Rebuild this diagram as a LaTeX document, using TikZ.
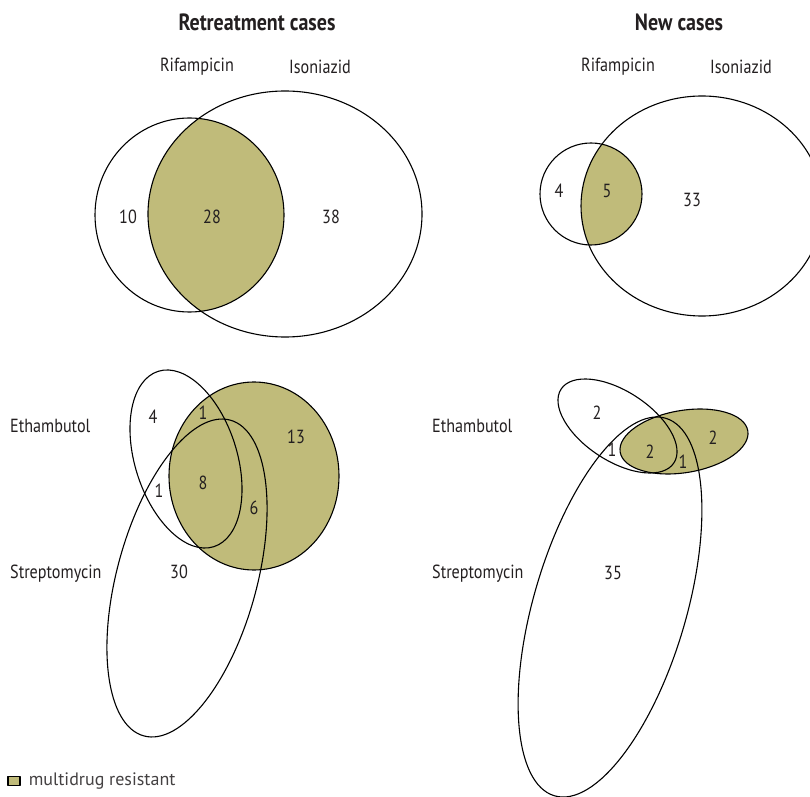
\documentclass[tikz,border=0pt]{standalone}
\usepackage{fontspec}
\setmainfont{PT Sans}
\newfontfamily\condfont[FakeStretch=0.85]{PT Sans}
\usepackage{tikz}
\usetikzlibrary{positioning}
\definecolor{mdrolive}{RGB}{192,187,122}
\definecolor{inktext}{RGB}{35,31,32}
\tikzset{
  setline/.style={line width=1.1pt,draw=black},
  mdrfill/.style={fill=mdrolive},
  numlbl/.style={font=\condfont\fontsize{19}{22}\selectfont,text=inktext,inner sep=0pt},
  setlbl/.style={font=\condfont\fontsize{19}{22}\selectfont,text=inktext,inner sep=0pt},
  titlelbl/.style={font=\condfont\bfseries\fontsize{23.5}{27}\selectfont,text=inktext,inner sep=0pt}
}
\begin{document}
\begin{tikzpicture}[line cap=round,line join=round,x=1pt,y=1pt]
\useasboundingbox (0.,0.) rectangle (810.,796.);
\clip (0.,0.) rectangle (810.,796.);
% retreatment cases, rifampicin / isoniazid
\begin{scope}
\clip (189.5,581.) ellipse (94.5 and 97.);
\fill [mdrfill] (285.,582.) ellipse (137. and 123.);
\end{scope}
\draw [setline] (189.5,581.) ellipse (94.5 and 97.);
\draw [setline] (285.,582.) ellipse (137. and 123.);
\draw (257.,774.) node[titlelbl] (rttitle) {Retreatment cases};
\draw (197.,729.) node[setlbl] (rtrif) {Rifampicin};
\draw (320.,729.) node[setlbl] (rtiso) {Isoniazid};
\draw (128.,579.) node[numlbl] (rtrifonly) {10};
\draw (212.,579.) node[numlbl] (rtboth) {28};
\draw (331.,579.) node[numlbl] (rtisoonly) {38};
% new cases, rifampicin / isoniazid
\begin{scope}
\clip (591.,602.) circle (51.);
\fill [mdrfill] (702.,590.) ellipse (121. and 110.);
\end{scope}
\draw [setline] (591.,602.) circle (51.);
\draw [setline] (702.,590.) ellipse (121. and 110.);
\draw (679.,774.) node[titlelbl] (nctitle) {New cases};
\draw (618.,729.) node[setlbl] (ncrif) {Rifampicin};
\draw (741.,729.) node[setlbl] (nciso) {Isoniazid};
\draw (559.,605.) node[numlbl] (ncrifonly) {4};
\draw (607.,605.) node[numlbl] (ncboth) {5};
\draw (692.,596.) node[numlbl] (ncisoonly) {33};
% retreatment cases, ethambutol / streptomycin
\fill [mdrfill] (254.,320.) ellipse (85. and 94.);
\draw [setline] (254.,320.) ellipse (85. and 94.);
\draw [setline,rotate around={107.6:(186.,337.)}] (186.,337.) ellipse (92. and 51.);
\draw [setline,rotate around={74.7:(187.,218.)}] (187.,218.) ellipse (163.7 and 69.9);
\draw (10.,370.) node[setlbl,anchor=west] (rteth) {Ethambutol};
\draw (10.,222.) node[setlbl,anchor=west] (rtstr) {Streptomycin};
\draw (153.,379.) node[numlbl] (rtethonly) {4};
\draw (203.,383.) node[numlbl] (rtethmdr) {1};
\draw (296.,359.) node[numlbl] (rtmdronly) {13};
\draw (159.,305.) node[numlbl] (rtethstr) {1};
\draw (203.,313.) node[numlbl] (rtall) {8};
\draw (254.,288.) node[numlbl] (rtstrmdr) {6};
\draw (179.,224.) node[numlbl] (rtstronly) {30};
% new cases, ethambutol / streptomycin
\fill [mdrfill,rotate around={9.5:(684.,354.5)}] (684.,354.5) ellipse (64.7 and 31.1);
\draw [setline,rotate around={9.5:(684.,354.5)}] (684.,354.5) ellipse (64.7 and 31.1);
\draw [setline,rotate around={-33.2:(617.5,370.)}] (617.5,370.) ellipse (67.4 and 34.8);
\draw [setline,rotate around={73.6:(610.,189.)}] (610.,189.) ellipse (196.8 and 76.3);
\draw (432.,370.) node[setlbl,anchor=west] (nceth) {Ethambutol};
\draw (432.,222.) node[setlbl,anchor=west] (ncstr) {Streptomycin};
\draw (597.,383.) node[numlbl] (ncethonly) {2};
\draw (612.,346.) node[numlbl] (ncethstr) {1};
\draw (650.,344.) node[numlbl] (ncall) {2};
\draw (683.,334.) node[numlbl] (ncstrmdr) {1};
\draw (713.,358.) node[numlbl] (ncmdronly) {2};
\draw (613.,223.) node[numlbl] (ncstronly) {35};
% key
\draw (14.,15.) node[draw,line width=1.1pt,mdrfill,minimum width=12pt,minimum height=9pt,inner sep=0pt] (key) {};
\node[right=8pt of key,font=\fontsize{18}{21}\selectfont,text=inktext!85,inner sep=0pt] (keytext) {multidrug resistant};
\end{tikzpicture}
\end{document}
